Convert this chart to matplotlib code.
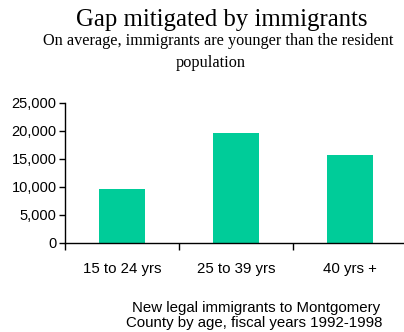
import matplotlib
matplotlib.use("Agg")
import matplotlib.pyplot as plt
from matplotlib.ticker import FuncFormatter

categories = ["15 to 24 yrs", "25 to 39 yrs", "40 yrs +"]
immigrants = [9700, 19700, 15750]
y_ticks = [0, 5000, 10000, 15000, 20000, 25000]

W, H = 404, 332
fig = plt.figure(figsize=(W / 100, H / 100), dpi=100)
ax = fig.add_axes([65 / W, 89 / H, 342 / W, 140 / H])

x = list(range(len(categories)))
ax.bar(x, immigrants, width=0.4, color="#00CC99")

ax.set_xlim(-0.5, 2.5)
ax.set_ylim(0, 25000)
ax.set_yticks(y_ticks)
ax.yaxis.set_major_formatter(FuncFormatter(lambda v, p: f"{int(v):,}"))

# boundaries get tick marks, category centres get the labels
ax.set_xticks([-0.5, 0.5, 1.5, 2.5])
ax.set_xticklabels([])
ax.set_xticks(x, minor=True)
ax.set_xticklabels(categories, minor=True, family="Liberation Sans", fontsize=10.8)
ax.tick_params(axis="x", which="major", direction="out", length=5, width=1)
ax.tick_params(axis="x", which="minor", length=0, pad=14)
ax.tick_params(axis="y", direction="out", length=4, width=1, pad=2)
for lbl in ax.get_yticklabels():
    lbl.set_family("Liberation Sans")
    lbl.set_fontsize(10.5)

for s in ["top", "right"]:
    ax.spines[s].set_visible(False)
for s in ["left", "bottom"]:
    ax.spines[s].set_linewidth(1)

fig.text(222 / W, 1 - 26 / H, "Gap mitigated by immigrants", ha="center",
         va="baseline", family="Liberation Serif", fontsize=17.8)
fig.text(218 / W, 1 - 45 / H, "On average, immigrants are younger than the resident",
         ha="center", va="baseline", family="Liberation Serif", fontsize=11.7)
fig.text(211 / W, 1 - 67 / H, "population", ha="center", va="baseline",
         family="Liberation Serif", fontsize=11.7)
fig.text(256 / W, 1 - 312 / H, "New legal immigrants to Montgomery", ha="center",
         va="baseline", family="Liberation Sans", fontsize=10.8)
fig.text(254 / W, 1 - 327 / H, "County by age, fiscal years 1992-1998", ha="center",
         va="baseline", family="Liberation Sans", fontsize=10.8)

fig.savefig("out.png", dpi=100)
